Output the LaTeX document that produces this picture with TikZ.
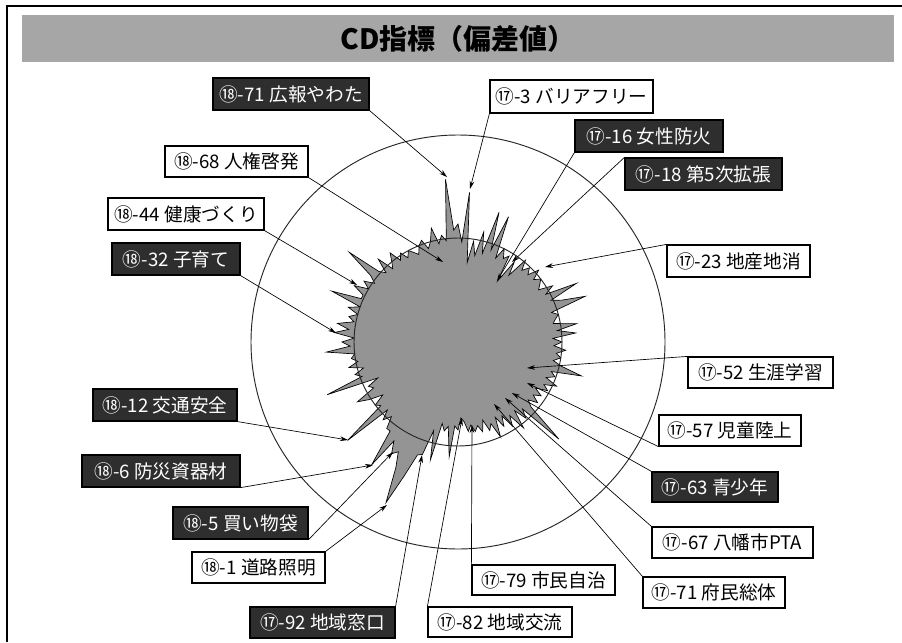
\documentclass[tikz,border=0pt]{standalone}
\usepackage{fontspec}
\setmainfont{Noto Sans CJK JP}
\usetikzlibrary{arrows.meta}
\begin{document}
\begin{tikzpicture}[x=0.75pt,y=-0.75pt,
  lblbox/.style={draw=black, line width=0.9pt, fill=white, inner sep=0pt, font=\fontsize{14pt}{16pt}\selectfont},
  lbldark/.style={lblbox, fill=black!82, text=white},
  ptr/.style={line width=0.5pt, -{Stealth[length=6pt,width=3.5pt]}},
  ring/.style={line width=0.7pt, draw=black!85},
  blob/.style={fill=black!42, draw=black, line width=0.5pt, line join=miter},
]
\useasboundingbox (0,0) rectangle (902,642);
\fill[white] (0,0) rectangle (902,642);
% frame
\draw[line width=1pt] (7,642) -- (7,6) -- (902,6);
% title band
\fill[black!35] (22,15) rectangle (894,62);
\node[font=\fontsize{21pt}{24pt}\bfseries\selectfont] (title) at (458,39) {CD指標（偏差値）};

% radar blob
\begin{scope}[shift={(458,342)}]
\draw[blob] (-90:118) \foreach \r [count=\i] in {
100,150,80,102,88,113,92,136,98,135,
92,104,95,100,73,98,84,106,96,103,
97,108,98,104,100,96,110,100,132,102,
112,135,98,104,100,97,120,100,118,95,
104,96,108,99,104,97,106,128,98,103,
95,108,96,102,90,99,92,100,91,98,
140,93,102,89,108,90,100,86,96,84,
104,88,94,82,93,86,91,84,90,80,
76,88,84,115,85,90,83,121,92,118,
120,145,176,140,125,130,118,150,112,112,
100,108,98,148,100,104,92,106,117,96,
100,88,141,102,108,98,112,102,108,104,
132,108,116,104,124,110,122,106,112,104,
115,104,136,106,106,118,104,112,102,110,
141,106,100,115,98,104,112,100,106,98,
104,100,96,104,108,98,104,117,100,108,
102,163,112} { -- ({-90+\i*2.195122}:\r) } -- cycle;
\end{scope}

% reference circles
\draw[ring] (458,342) circle[radius=155.25pt];
\draw[ring] (458,342) circle[radius=78pt];

% arrow targets
\coordinate (t1) at (447,177);
\coordinate (t2) at (470,189);
\coordinate (t3) at (497,281);
\coordinate (t4) at (512,262);
\coordinate (t5) at (545,267);
\coordinate (t6) at (443,262);
\coordinate (t7) at (357,285);
\coordinate (t8) at (336,333);
\coordinate (t9) at (348,440);
\coordinate (t10) at (373,465);
\coordinate (t11) at (393,452);
\coordinate (t12) at (387,505);
\coordinate (t13) at (422,455);
\coordinate (t14) at (462,418);
\coordinate (t15) at (472,425);
\coordinate (t16) at (494,404);
\coordinate (t17) at (505,398);
\coordinate (t18) at (512,393);
\coordinate (t19) at (527,383);
\coordinate (t20) at (527,368);

% labels
\node[lbldark, minimum width=117pt, minimum height=24pt] (l1) at (291,94) {⑱-71 広報やわた};
\node[lblbox, minimum width=122.25pt, minimum height=24.75pt] (l2) at (571.5,96.5) {⑰-3 バリアフリー};
\node[lbldark, minimum width=111pt, minimum height=24pt] (l3) at (649,136) {⑰-16 女性防火};
\node[lbldark, minimum width=117.75pt, minimum height=24pt] (l4) at (703.5,174) {⑰-18 第5次拡張};
\node[lblbox, minimum width=107.25pt, minimum height=24pt] (l5) at (738.5,261) {⑰-23 地産地消};
\node[lblbox, minimum width=107.25pt, minimum height=23.25pt] (l6) at (236.5,161.5) {⑱-68 人権啓発};
\node[lblbox, minimum width=117pt, minimum height=24pt] (l7) at (186,214) {⑱-44 健康づくり};
\node[lbldark, minimum width=96pt, minimum height=24pt] (l8) at (176,259) {⑱-32 子育て};
\node[lbldark, minimum width=108pt, minimum height=24pt] (l9) at (165,405) {⑱-12 交通安全};
\node[lbldark, minimum width=118.5pt, minimum height=24pt] (l10) at (161,471) {⑱-6 防災資器材};
\node[lbldark, minimum width=101.25pt, minimum height=24pt] (l11) at (240.5,523) {⑱-5 買い物袋};
\node[lblbox, minimum width=99.75pt, minimum height=23.25pt] (l12) at (258.5,567.5) {⑱-1 道路照明};
\node[lbldark, minimum width=108.75pt, minimum height=23.25pt] (l13) at (322.5,622.5) {⑰-92 地域窓口};
\node[lblbox, minimum width=108pt, minimum height=22.5pt] (l14) at (500,622) {⑰-82 地域交流};
\node[lblbox, minimum width=107.25pt, minimum height=22.5pt] (l15) at (543.5,580) {⑰-79 市民自治};
\node[lblbox, minimum width=106.5pt, minimum height=23.25pt] (l16) at (714,592.5) {⑰-71 府民総体};
\node[lblbox, minimum width=120.75pt, minimum height=23.25pt] (l17) at (732.5,542.5) {⑰-67 八幡市PTA};
\node[lbldark, minimum width=94.5pt, minimum height=22.5pt] (l18) at (715,487) {⑰-63 青少年};
\node[lblbox, minimum width=106.5pt, minimum height=23.25pt] (l19) at (730,430.5) {⑰-57 児童陸上};
\node[lblbox, minimum width=108.75pt, minimum height=23.25pt] (l20) at (760.5,372.5) {⑰-52 生涯学習};

% connectors
\draw[ptr] (l1.south east) -- (t1);
\draw[ptr] (l2.south west) -- (t2);
\draw[ptr] (l3.south west) -- (t3);
\draw[ptr] (l4.north west) -- (t4);
\draw[ptr] (l5.north west) -- (t5);
\draw[ptr] (l6.south east) -- (t6);
\draw[ptr] (l7.south east) -- (t7);
\draw[ptr] (l8.south east) -- (t8);
\draw[ptr] (l9.south east) -- (t9);
\draw[ptr] (l10.south east) -- (t10);
\draw[ptr] (l11.south east) -- (t11);
\draw[ptr] (l12.north east) -- (t12);
\draw[ptr] (l13.north east) -- (t13);
\draw[ptr] (l14.north west) -- (t14);
\draw[ptr] (l15.north west) -- (t15);
\draw[ptr] (l16.north west) -- (t16);
\draw[ptr] (l17.north west) -- (t17);
\draw[ptr] (l18.north west) -- (t18);
\draw[ptr] (l19.south west) -- (t19);
\draw[ptr] (l20.north west) -- (t20);
\end{tikzpicture}
\end{document}
